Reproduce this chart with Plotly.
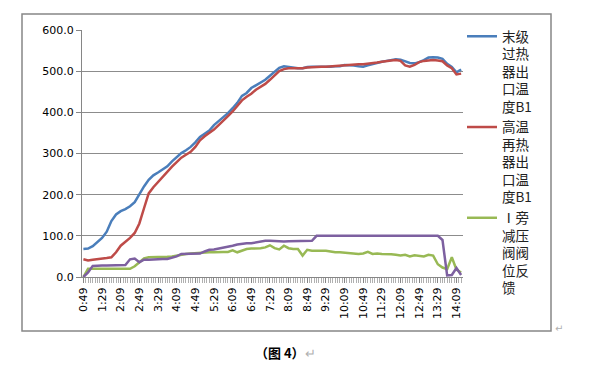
import plotly.graph_objects as go

times = ["0:49", "0:59",
         "1:09", "1:19", "1:29", "1:39", "1:49", "1:59",
         "2:09", "2:19", "2:29", "2:39", "2:49", "2:59",
         "3:09", "3:19", "3:29", "3:39", "3:49", "3:59",
         "4:09", "4:19", "4:29", "4:39", "4:49", "4:59",
         "5:09", "5:19", "5:29", "5:39", "5:49", "5:59",
         "6:09", "6:19", "6:29", "6:39", "6:49", "6:59",
         "7:09", "7:19", "7:29", "7:39", "7:49", "7:59",
         "8:09", "8:19", "8:29", "8:39", "8:49", "8:59",
         "9:09", "9:19", "9:29", "9:39", "9:49", "9:59",
         "10:09", "10:19", "10:29", "10:39", "10:49", "10:59",
         "11:09", "11:19", "11:29", "11:39", "11:49", "11:59",
         "12:09", "12:19", "12:29", "12:39", "12:49", "12:59",
         "13:09", "13:19", "13:29", "13:39", "13:49", "13:59",
         "14:09", "14:19"]

tick_labels = ["0:49", "1:29", "2:09", "2:49", "3:29", "4:09", "4:49", "5:29",
               "6:09", "6:49", "7:29", "8:09", "8:49", "9:29", "10:09", "10:49",
               "11:29", "12:09", "12:49", "13:29", "14:09"]

superheater_b1 = [68, 69, 75, 84, 95, 110, 136, 152, 160, 165,
                  172, 182, 202, 220, 236, 247, 254, 262, 269, 281,
                  292, 301, 308, 316, 327, 340, 348, 356, 369, 378,
                  387, 398, 410, 423, 440, 447, 459, 465, 472, 479,
                  489, 499, 508, 512, 510, 508, 507, 507, 510, 511,
                  511, 510, 511, 511, 512, 512, 515, 515, 514, 512,
                  511, 514, 517, 521, 523, 525, 527, 529, 528, 524,
                  520, 519, 522, 527, 533, 534, 533, 530, 518, 510,
                  497, 504]

reheater_b1 = [43, 40, 42, 43, 44, 46, 48, 60, 76, 85,
               95, 107, 130, 167, 203, 218, 231, 244, 255, 268,
               279, 290, 297, 304, 316, 332, 342, 350, 358, 369,
               381, 391, 402, 416, 429, 438, 445, 455, 462, 469,
               479, 490, 500, 505, 507, 507, 507, 507, 509, 510,
               511, 511, 511, 512, 512, 513, 514, 515, 516, 517,
               517, 518, 520, 521, 523, 525, 526, 527, 525, 514,
               511, 515, 522, 525, 526, 527, 526, 524, 514, 507,
               492, 494]

bypass_valve = [0, 20, 20, 20, 20, 20, 20, 20, 20, 20,
                20, 26, 35, 45, 48, 48, 48, 48, 49, 50,
                52, 55, 56, 57, 58, 59, 60, 60, 60, 61,
                61, 61, 65, 60, 64, 68, 69, 69, 70, 72,
                77, 70, 67, 76, 70, 68, 68, 52, 66, 64,
                64, 63, 64, 62, 60, 60, 59, 58, 57, 56,
                57, 61, 56, 57, 56, 56, 55, 54, 52, 54,
                50, 53, 52, 50, 54, 52, 31, 23, 19, 48,
                18, 11]

purple_series = [0, 11, 27, 28, 28, 28, 28, 28, 28, 29,
                 43, 45, 36, 42, 42, 43, 43, 44, 44, 47,
                 50, 56, 56, 56, 56, 57, 62, 66, 67, 69,
                 71, 73, 76, 79, 81, 82, 82, 84, 86, 88,
                 88, 87, 86, 86, 87, 87, 87, 87, 87, 88,
                 100, 100, 100, 100, 100, 100, 100, 100, 100, 100,
                 100, 100, 100, 100, 100, 100, 100, 100, 100, 100,
                 100, 100, 100, 100, 100, 100, 100, 90, 4, 5,
                 22, 5]

names = ["末级<br>过热<br>器出<br>口温<br>度B1",
         "高温<br>再热<br>器出<br>口温<br>度B1",
         "Ⅰ旁<br>减压<br>阀阀<br>位反<br>馈"]

idx = list(range(len(times)))
tick_idx = [times.index(t) for t in tick_labels]

fig = go.Figure()
fig.add_trace(go.Scatter(x=idx, y=superheater_b1, mode="lines", name=names[0],
                         line=dict(color="#4A7EBB", width=2.5)))
fig.add_trace(go.Scatter(x=idx, y=reheater_b1, mode="lines", name=names[1],
                         line=dict(color="#BE4B48", width=2.5)))
fig.add_trace(go.Scatter(x=idx, y=bypass_valve, mode="lines", name=names[2],
                         line=dict(color="#98B954", width=2.5)))
fig.add_trace(go.Scatter(x=idx, y=purple_series, mode="lines", name="",
                         showlegend=False,
                         line=dict(color="#7D60A0", width=2.5)))

# page has an 8px body margin: figure pixel = page pixel - 8
OFF = 8
FW, FH = 589 - 2 * OFF, 375 - 2 * OFF
L, R, T, B = 82 - OFF, 463 - OFF, 30 - OFF, 277 - OFF
W, H = R - L, B - T

def px(x):
    return (x - OFF - L) / W

def py(y):
    return (B - (y - OFF)) / H

fig.update_layout(
    width=FW, height=FH,
    margin=dict(l=L, r=FW - R, t=T, b=FH - B, autoexpand=False),
    paper_bgcolor="white", plot_bgcolor="white",
    font=dict(family="DejaVu Sans", size=11, color="#000000"),
    showlegend=True,
    legend=dict(x=px(462), y=py(21), xanchor="left", yanchor="top",
                valign="top", tracegroupgap=0, maxheight=360,
                font=dict(family="Noto Sans CJK SC", size=13.5, color="#222222"),
                bgcolor="rgba(0,0,0,0)"),
    xaxis=dict(range=[-0.3, 81.4], tickmode="array", tickvals=tick_idx,
               ticktext=tick_labels, tickangle=-90, showgrid=False,
               showline=True, linecolor="#868686", linewidth=1,
               ticks="outside", ticklen=5, tickcolor="#868686",
               minor=dict(dtick=0.5, ticks="outside", ticklen=5,
                          tickcolor="#b0b0b0", showgrid=False),
               zeroline=False,
               tickfont=dict(family="DejaVu Sans", size=11, color="#000000")),
    yaxis=dict(range=[0, 600], tickmode="array",
               tickvals=[0, 100, 200, 300, 400, 500, 600],
               tickformat=".1f", showgrid=True, gridcolor="#8c8c8c",
               gridwidth=1, showline=True, linecolor="#868686", linewidth=1,
               ticks="outside", ticklen=5, tickcolor="#868686",
               zeroline=False,
               tickfont=dict(family="DejaVu Sans", size=11, color="#000000")),
    shapes=[dict(type="rect", xref="paper", yref="paper",
                 x0=px(22), x1=px(551), y0=py(331), y1=py(14),
                 line=dict(color="#878787", width=1.5))],
    annotations=[
        dict(xref="paper", yref="paper", x=px(285), y=py(352),
             text="<b>（图 4）</b><span style='color:#b0b0b0'>↵</span>",
             showarrow=False, xanchor="center", yanchor="middle",
             font=dict(family="Noto Sans CJK SC", size=13, color="#000000")),
        dict(xref="paper", yref="paper", x=px(553), y=py(328),
             text="↵", showarrow=False, xanchor="left", yanchor="middle",
             font=dict(family="DejaVu Sans", size=10, color="#b0b0b0")),
    ],
)

fig.write_html("out.html")
